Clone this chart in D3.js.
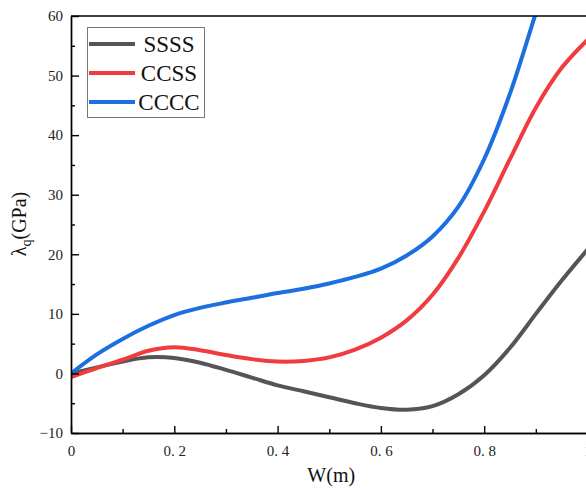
<!DOCTYPE html>
<html><head><meta charset="utf-8">
<script src="https://cdn.jsdelivr.net/npm/d3@7"></script>
<style>body{margin:0;background:#fff}svg{display:block}svg text{font-family:"Liberation Serif","DejaVu Serif",serif}</style>
</head><body>
<script>
const xs = [0,0.05,0.1,0.15,0.2,0.25,0.3,0.35,0.4,0.45,0.5,0.55,0.6,0.65,0.7,0.75,0.8,0.85,0.9,0.95,1.0];
const ssss = [0,1.0,2.0,2.7,2.6,1.8,0.6,-0.7,-2.0,-3.0,-4.0,-5.0,-5.8,-6.1,-5.5,-3.5,-0.3,4.3,10.0,15.6,20.8];
const ccss = [-0.6,0.9,2.3,3.8,4.4,3.9,3.1,2.4,2.0,2.1,2.7,4.0,6.0,8.9,13.2,19.4,27.2,36.0,44.6,51.3,56.0];
const cccc = [0,3.2,5.8,8.0,9.8,11.0,11.9,12.7,13.5,14.2,15.1,16.2,17.6,19.8,23.0,28.0,36.0,47.0,60.5,74.0,88.0];
const seriesNames = ["SSSS","CCSS","CCCC"];
const seriesColors = ["#555555","#f03c3f","#1c6fdf"];
const xTicks = [0,0.2,0.4,0.6,0.8,1.0];
const xTickLabels = ["0","0. 2","0. 4","0. 6","0. 8","1"];
const yTicks = [-10,0,10,20,30,40,50,60];

const W=586,H=489;
const m={l:71,t:16,r:-1.5,b:56};
const svg=d3.select("body").append("svg").attr("width",W).attr("height",H);
const x=d3.scaleLinear().domain([0,1]).range([m.l,W-m.r]);
const y=d3.scaleLinear().domain([-10,60]).range([H-m.b,m.t]);
const font="Liberation Serif";

svg.append("defs").append("clipPath").attr("id","clip")
  .append("rect").attr("x",x(0)).attr("y",y(60)).attr("width",x(1)-x(0)).attr("height",y(-10)-y(60));

const data=[ssss,ccss,cccc];
const line=d3.line().curve(d3.curveCatmullRom.alpha(0.5));
const g=svg.append("g").attr("clip-path","url(#clip)");
data.forEach((vals,i)=>{
  g.append("path").attr("d",line(xs.map((v,j)=>[x(v),y(vals[j])])))
   .attr("fill","none").attr("stroke",seriesColors[i]).attr("stroke-width",4).attr("stroke-linejoin","round");
});

// axes
const xAxis=svg.append("g").attr("transform",`translate(0,${y(-10)})`)
  .call(d3.axisBottom(x).tickValues(xTicks).tickSizeInner(-7).tickSizeOuter(0).tickPadding(14).tickFormat((d,i)=>xTickLabels[i]));
const xMinor=svg.append("g").attr("transform",`translate(0,${y(-10)})`)
  .call(d3.axisBottom(x).tickValues([0.1,0.3,0.5,0.7,0.9]).tickSizeInner(-4).tickSizeOuter(0).tickFormat(""));
const yAxis=svg.append("g").attr("transform",`translate(${x(0)},0)`)
  .call(d3.axisLeft(y).tickValues(yTicks).tickSizeInner(-8).tickSizeOuter(0).tickPadding(8));
const yMinor=svg.append("g").attr("transform",`translate(${x(0)},0)`)
  .call(d3.axisLeft(y).tickValues([-5,5,15,25,35,45,55]).tickSizeInner(-4).tickSizeOuter(0).tickFormat(""));
[xAxis,xMinor,yAxis,yMinor].forEach(a=>{
  a.attr("font-family",font);
  a.selectAll("path").attr("stroke","#000").attr("stroke-width",1.4);
  a.selectAll("line").attr("stroke","#000").attr("stroke-width",1.4);
  a.selectAll("text").attr("font-family",font).attr("font-size",15).attr("fill","#222");
});
xAxis.selectAll("text").attr("dy","0.6em");
// top and right border
svg.append("line").attr("x1",x(0)).attr("x2",x(1)).attr("y1",y(60)).attr("y2",y(60)).attr("stroke","#000").attr("stroke-width",1.4);
svg.append("line").attr("x1",x(1)).attr("x2",x(1)).attr("y1",y(60)).attr("y2",y(-10)).attr("stroke","#000").attr("stroke-width",1.4);

// titles
svg.append("text").attr("x",(x(0)+x(1))/2+2).attr("y",482).attr("text-anchor","middle")
  .attr("font-family",font).attr("font-size",20).attr("fill","#111").text("W(m)");
const yt=svg.append("text").attr("transform",`translate(26,${224}) rotate(-90)`).attr("text-anchor","middle")
  .attr("font-family",font).attr("font-size",20).attr("fill","#111");
yt.append("tspan").text("λ");
yt.append("tspan").attr("font-size",14).attr("dy",5).text("q");
yt.append("tspan").attr("dy",-5).text("(GPa)");

// legend
const lg=svg.append("g");
lg.append("rect").attr("x",87.5).attr("y",27.5).attr("width",117).attr("height",90)
  .attr("fill","#fff").attr("stroke","#777").attr("stroke-width",1);
seriesNames.forEach((n,i)=>{
  const yy=44+i*29;
  lg.append("line").attr("x1",89).attr("x2",135).attr("y1",yy).attr("y2",yy)
    .attr("stroke",seriesColors[i]).attr("stroke-width",4);
  lg.append("text").attr("x",169).attr("y",yy+8).attr("text-anchor","middle")
    .attr("font-family",font).attr("font-size",23).attr("fill","#111").text(n);
});
</script>
</body></html>
